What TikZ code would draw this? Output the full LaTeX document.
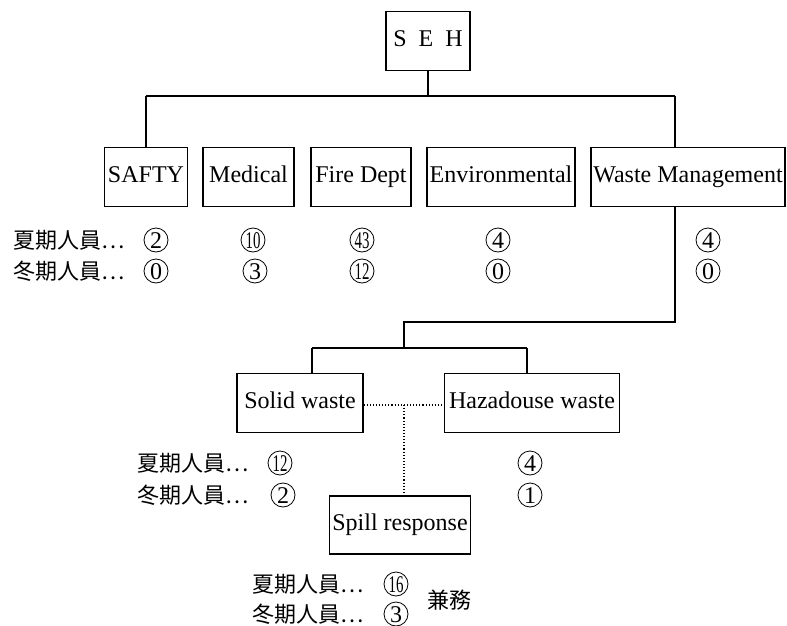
\documentclass[tikz,border=0pt]{standalone}
\usepackage{fontspec}
\usepackage{graphicx}
\setmainfont{Liberation Serif}
\newfontfamily\jp{Noto Sans CJK JP}
\tikzset{
  box/.style={draw, line width=1.1pt, minimum height=59pt, inner sep=0pt, text height=16pt, text depth=5pt, font=\fontsize{24}{28}\selectfont},
  conn/.style={line width=1.1pt},
  dotconn/.style={line width=1.1pt, dotted},
  circ/.style={circle, draw, line width=0.8pt, minimum size=24pt, inner sep=0pt, text height=16pt, text depth=0pt, font=\fontsize{24}{24}\selectfont},
  lbl/.style={anchor=west, inner sep=0pt, font=\jp\fontsize{22}{22}\selectfont},
}
\newcommand{\nn}[1]{\scalebox{0.62}[1]{#1}}
\begin{document}
\begin{tikzpicture}[x=1pt,y=-1pt]
\useasboundingbox (0,0) rectangle (787,626);
% boxes
\node[box, minimum width=84pt] (seh) at (428,41) {S\,\,\,E\,\,\,H};
\node[box, minimum width=83pt] (safty) at (146,177) {SAFTY};
\node[box, minimum width=91pt] (medical) at (248.5,177) {Medical};
\node[box, minimum width=100pt] (fire) at (361,177) {Fire Dept};
\node[box, minimum width=148pt] (env) at (501,177) {Environmental};
\node[box, minimum width=194pt] (wm) at (688,177) {Waste Management};
\node[box, minimum width=126pt] (solid) at (300,403) {Solid waste};
\node[box, minimum width=175pt] (haz) at (532,403) {Hazadouse waste};
\node[box, minimum width=141pt, minimum height=58pt] (spill) at (400,525) {Spill response};
% junctions
\coordinate (j1) at (146,96);
\coordinate (j2) at (675,96);
\coordinate (j4) at (404,322);
\coordinate (j5) at (404,348);
\coordinate (j6) at (312,348);
\coordinate (j7) at (527,348);
\coordinate (d1) at (404,405);
% connectors
\draw[conn] (seh.south) -- (seh.south |- j1);
\draw[conn] (j1) -- (j2);
\draw[conn] (j1) -- (safty.north);
\draw[conn] (j2) -- (j2 |- wm.north);
\draw[conn] (j2 |- wm.south) |- (j4) -- (j5);
\draw[conn] (j6) -- (j7);
\draw[conn] (j6) -- (j6 |- solid.north);
\draw[conn] (j7) -- (j7 |- haz.north);
\draw[dotconn] (solid.east |- d1) -- (haz.west |- d1);
\draw[dotconn] (d1) -- (d1 |- spill.north);
% staff labels
\node[lbl] (s1) at (13,240) {夏期人員…};
\node[lbl] (w1) at (13,271) {冬期人員…};
\node[circ] (c1a) at (156,240) {2};
\node[circ] (c1b) at (156,271) {0};
\node[circ] (c2a) at (253,240) {\nn{10}};
\node[circ] (c2b) at (255,271) {3};
\node[circ] (c3a) at (362,240) {\nn{43}};
\node[circ] (c3b) at (362,271) {\nn{12}};
\node[circ] (c4a) at (498,240) {4};
\node[circ] (c4b) at (498,271) {0};
\node[circ] (c5a) at (708,240) {4};
\node[circ] (c5b) at (708,271) {0};
\node[lbl] (s2) at (137,463) {夏期人員…};
\node[lbl] (w2) at (137,495) {冬期人員…};
\node[circ] (c6a) at (280,463) {\nn{12}};
\node[circ] (c6b) at (283,495) {2};
\node[circ] (c7a) at (530,463) {4};
\node[circ] (c7b) at (530,495) {1};
\node[lbl] (s3) at (252,584) {夏期人員…};
\node[lbl] (w3) at (252,614) {冬期人員…};
\node[circ] (c8a) at (396,584) {\nn{16}};
\node[circ] (c8b) at (396,614) {3};
\node[lbl] (kenmu) at (427,600) {兼務};
\end{tikzpicture}
\end{document}
